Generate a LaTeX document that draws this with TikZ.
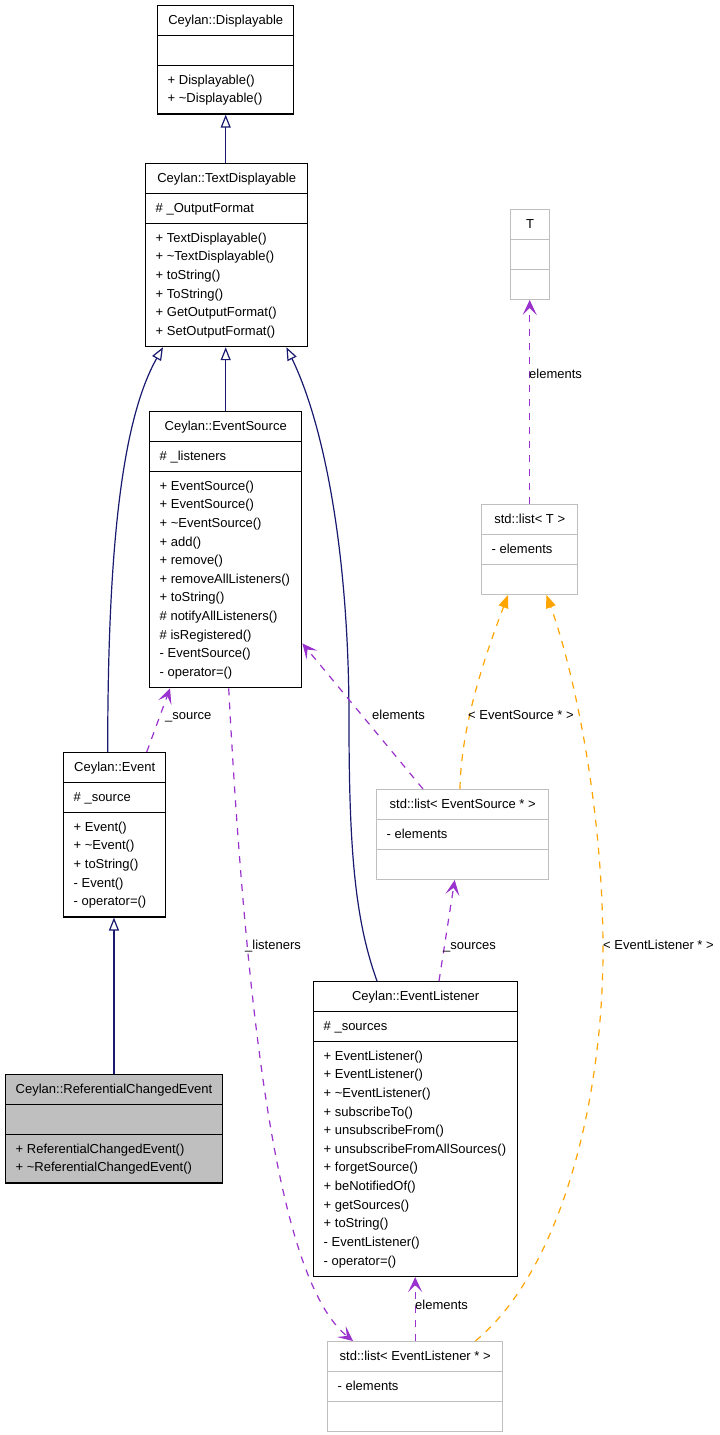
\documentclass[tikz,border=0pt]{standalone}
\usepackage{fontspec}
\setmainfont{Liberation Sans}
\usetikzlibrary{shapes.multipart, arrows.meta}

\definecolor{inhblue}{HTML}{191970}
\definecolor{usepurple}{HTML}{9A32CD}
\definecolor{tmplorange}{HTML}{FFA500}
\definecolor{boxgray}{HTML}{BFBFBF}
\newcommand{\classfont}{\fontsize{13}{18.65}\selectfont}
\newcommand{\tld}{\textasciitilde}

\begin{document}
\begin{tikzpicture}[x=1pt, y=-1pt,
cls/.style={rectangle split, rectangle split parts=3, rectangle split ignore empty parts=false,
  rectangle split part align={center,left,left}, rectangle split empty part height=13.06pt,
  rectangle split empty part depth=5.6pt, draw=black, fill=white, line width=1.4pt,
  anchor=north west, font=\classfont, align=left, inner xsep=10pt, inner ysep=4.9pt},
tplcls/.style={cls, draw=boxgray},
inh/.style={draw=inhblue, line width=1.2pt, -{Triangle[open, length=13pt, width=10pt]}},
usage/.style={draw=usepurple, line width=1.2pt, dash pattern=on 7pt off 7pt, -{Stealth[length=15pt, width=14pt, inset=7pt]}},
tmpl/.style={draw=tmplorange, line width=1.2pt, dash pattern=on 7pt off 7pt, -{Triangle[length=13pt, width=10pt]}},
lbl/.style={font=\classfont, anchor=mid west, inner sep=0pt}]
\fill[white] (0,0) rectangle (720,1435);
\useasboundingbox (0,0) rectangle (720,1435);

% classes
\node[cls, minimum width=136pt] (disp) at (157,5) {\strut Ceylan::Displayable
  \nodepart{two}\strut
  \nodepart{three}\strut+ Displayable()\\\strut+ \tld Displayable()};
\node[cls, minimum width=162pt] (textdisp) at (145,163) {\strut Ceylan::TextDisplayable
  \nodepart{two}\strut\# \_OutputFormat
  \nodepart{three}\strut+ TextDisplayable()\\\strut+ \tld TextDisplayable()\\\strut+ toString()\\
  \strut+ ToString()\\\strut+ GetOutputFormat()\\\strut+ SetOutputFormat()};
\node[cls, minimum width=152pt] (evsrc) at (149,411) {\strut Ceylan::EventSource
  \nodepart{two}\strut\# \_listeners
  \nodepart{three}\strut+ EventSource()\\\strut+ EventSource()\\\strut+ \tld EventSource()\\
  \strut+ add()\\\strut+ remove()\\\strut+ removeAllListeners()\\\strut+ toString()\\
  \strut\# notifyAllListeners()\\\strut\# isRegistered()\\\strut- EventSource()\\\strut- operator=()};
\node[cls, minimum width=102pt] (ev) at (63,752) {\strut Ceylan::Event
  \nodepart{two}\strut\# \_source
  \nodepart{three}\strut+ Event()\\\strut+ \tld Event()\\\strut+ toString()\\\strut- Event()\\\strut- operator=()};
\node[cls, minimum width=216pt, fill=boxgray] (refev) at (5,1074) {\strut Ceylan::ReferentialChangedEvent
  \nodepart{two}\strut
  \nodepart{three}\strut+ ReferentialChangedEvent()\\\strut+ \tld ReferentialChangedEvent()};
\node[cls, minimum width=204pt] (evlis) at (313,981) {\strut Ceylan::EventListener
  \nodepart{two}\strut\# \_sources
  \nodepart{three}\strut+ EventListener()\\\strut+ EventListener()\\\strut+ \tld EventListener()\\
  \strut+ subscribeTo()\\\strut+ unsubscribeFrom()\\\strut+ unsubscribeFromAllSources()\\
  \strut+ forgetSource()\\\strut+ beNotifiedOf()\\\strut+ getSources()\\\strut+ toString()\\
  \strut- EventListener()\\\strut- operator=()};

% templates
\node[tplcls, minimum width=39pt] (tcls) at (510,209) {\strut T \nodepart{two}\strut \nodepart{three}\strut};
\node[tplcls, minimum width=96pt] (lstt) at (481,504) {\strut std::list< T >
  \nodepart{two}\strut- elements \nodepart{three}\strut};
\node[tplcls, minimum width=172pt] (lstsrc) at (376,789) {\strut std::list< EventSource * >
  \nodepart{two}\strut- elements \nodepart{three}\strut};
\node[tplcls, minimum width=175pt] (lstlis) at (327,1341) {\strut std::list< EventListener * >
  \nodepart{two}\strut- elements \nodepart{three}\strut};

% inheritance
\draw[inh] (disp.south |- textdisp.north) -- (disp.south);
\draw[inh] (evsrc.north) -- (evsrc.north |- textdisp.south);
\draw[inh] ([xshift=-7pt]ev.north) .. controls +(0,-192) and +(-43,76) .. ([xshift=18pt]textdisp.south west);
\draw[inh] ([xshift=64pt]evlis.north west) .. controls +(-22,-61) and +(0,130) .. (349,720)
  .. controls +(0,-170) and +(37,76) .. ([xshift=-22pt]textdisp.south east);
\draw[inh] (refev.north) -- (refev.north |- ev.south);

% usage
\draw[usage] ([xshift=32pt]ev.north) -- ([xshift=21pt]evsrc.south west);
\draw[usage] ([xshift=47pt]lstsrc.north west) -- ([yshift=45pt]evsrc.south east);
\draw[usage] ([xshift=3pt]evsrc.south) .. controls +(22,415) and +(-63,-51) .. ([xshift=26pt]lstlis.north west);
\draw[usage] ([xshift=126pt]evlis.north west) -- ([xshift=-8pt]lstsrc.south);
\draw[usage] (lstlis.north) -- (lstlis.north |- evlis.south);
\draw[usage] (lstt.north) -- (lstt.north |- tcls.south);

% template instances
\draw[tmpl] ([xshift=84pt]lstsrc.north west) .. controls +(1,-69) and +(-18,48) .. ([xshift=27pt]lstt.south west);
\draw[tmpl] ([xshift=-28pt]lstlis.north east) .. controls +(86,-71) and +(0,150) .. (603,950)
  .. controls +(0,-150) and +(25,68) .. ([xshift=-32pt]lstt.south east);

% labels
\node[lbl] (lelt) at (529,376) {elements};
\node[lbl] (lsrc) at (165,717) {\_source};
\node[lbl] (lels) at (372,717) {elements};
\node[lbl] (ltsrc) at (468,717) {< EventSource * >};
\node[lbl] (llis) at (245,947) {\_listeners};
\node[lbl] (lsrcs) at (443,947) {\_sources};
\node[lbl] (ltlis) at (603,947) {< EventListener * >};
\node[lbl] (lell) at (415,1307) {elements};
\end{tikzpicture}
\end{document}
